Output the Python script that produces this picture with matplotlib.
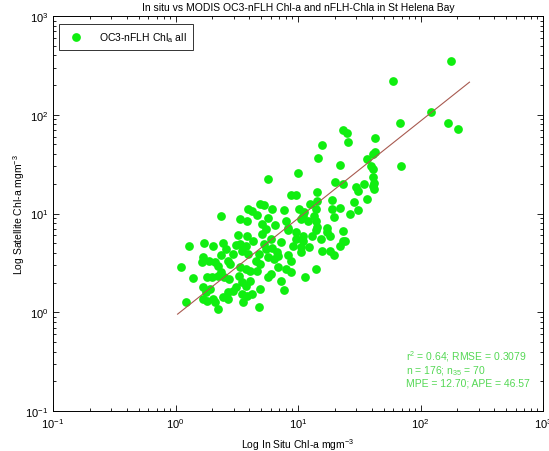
import numpy as np
import matplotlib
matplotlib.use("Agg")
import matplotlib.pyplot as plt
from matplotlib.lines import Line2D

# in situ vs satellite chl-a (mg m^-3)
insitu_chl = [
    1.28, 1.72, 2.04, 2.42, 3.21, 3.87, 4.33, 3.09, 3.39, 3.73,
    5.13, 5.23, 5.43, 3.52, 3.94, 4.76, 5.64, 2.33, 1.69, 1.86,
    1.66, 2.12, 2.24, 2.66, 2.81, 1.10, 3.39, 3.73, 4.09, 4.67,
    2.33, 3.27, 1.40, 1.82, 2.00, 2.24, 2.47, 2.71, 3.52, 3.73,
    4.09, 1.69, 1.93, 1.76, 4.94, 2.66, 2.92, 3.52, 3.87, 4.25,
    1.69, 1.82, 2.04, 2.12, 2.42, 2.66, 3.59, 1.21, 4.76, 2.24,
    5.64, 4.94, 5.23, 3.94, 4.25, 4.67, 2.33, 3.39, 3.87, 5.64,
    8.21, 9.55, 13.9, 17.4, 18.4, 23.1, 10.9, 10.9, 13.1, 23.1,
    24.4, 22.2, 9.02, 10.5, 10.5, 15.8, 18.4, 19.5, 6.19, 6.80,
    6.93, 6.31, 8.21, 6.93, 7.91, 8.69, 13.9, 11.5, 5.97, 5.64,
    7.20, 7.62, 15.8, 25.8, 14.7, 22.2, 40.6, 36.9, 39.1, 9.91,
    20.2, 23.5, 29.5, 30.6, 34.3, 41.3, 41.3, 14.4, 8.69, 9.55,
    28.4, 36.9, 19.1, 12.6, 14.4, 6.19, 7.62, 10.1, 13.9, 19.1,
    22.2, 10.9, 10.5, 13.4, 13.9, 19.5, 7.91, 6.55, 8.21, 14.4,
    17.4, 5.43, 12.0, 11.1, 23.5, 24.9, 176, 59.1, 121, 67.4,
    169, 204, 42.9, 42.9, 68.7, 40.6, 42.1, 42.1, 26.8, 30.6,
    2.56, 2.97, 4.50, 4.94, 3.09, 5.97, 7.20, 8.69, 9.72, 15.3,
    12.2, 5.13,
]
satellite_chl = [
    4.66, 5.00, 4.66, 5.00, 6.02, 5.88, 5.24, 4.77, 4.88, 4.66,
    6.17, 4.88, 4.35, 4.15, 3.87, 3.87, 3.61, 3.78, 3.61, 3.28,
    3.21, 3.21, 2.92, 3.28, 3.06, 2.86, 2.86, 2.73, 2.60, 2.60,
    2.54, 2.32, 2.21, 2.26, 2.26, 2.32, 2.26, 2.16, 2.01, 1.83,
    2.06, 1.79, 1.71, 1.59, 1.71, 1.59, 1.63, 1.52, 1.45, 1.52,
    1.35, 1.29, 1.35, 1.26, 1.42, 1.35, 1.26, 1.26, 1.12, 1.07,
    22.2, 12.4, 12.1, 11.0, 10.5, 9.60, 9.38, 8.75, 8.35, 8.95,
    6.77, 6.46, 6.77, 6.46, 5.88, 6.61, 5.88, 5.24, 5.88, 5.24,
    5.24, 4.66, 4.66, 4.55, 4.05, 4.15, 4.15, 3.78, 4.45, 4.05,
    3.69, 3.44, 3.78, 2.86, 2.73, 2.54, 2.73, 2.26, 2.43, 2.26,
    2.06, 1.67, 49.1, 52.7, 36.3, 30.8, 39.8, 35.4, 30.1, 25.6,
    20.7, 19.8, 18.4, 16.8, 19.8, 23.3, 18.9, 16.4, 15.3, 15.3,
    13.0, 13.9, 13.6, 12.4, 13.3, 11.0, 10.8, 11.0, 11.0, 11.0,
    11.3, 9.38, 8.75, 9.38, 8.35, 9.16, 8.35, 7.60, 7.09, 7.26,
    7.09, 6.93, 8.35, 10.3, 69.7, 65.0, 348, 218, 106, 82.0,
    82.0, 71.3, 57.8, 41.7, 30.1, 28.1, 20.2, 17.6, 9.83, 10.8,
    4.35, 3.87, 3.28, 3.06, 1.79, 5.49, 5.12, 3.28, 5.49, 5.49,
    4.55, 7.78,
]

# log-log regression line
fit_slope = 0.986
fit_intercept = -0.036
fit_range = [1.04, 251]

stats_lines = [
    r"r$^2$ = 0.64; RMSE = 0.3079",
    r"n = 176; n$_{35}$ = 70",
    "MPE = 12.70; APE = 46.57",
]

plt.rcParams["font.family"] = ["Liberation Sans", "DejaVu Sans"]
plt.rcParams["mathtext.default"] = "regular"
plt.rcParams["font.size"] = 7.5

fig = plt.figure(figsize=(5.49, 4.52), dpi=100)
ax = fig.add_axes([53 / 549, 1 - 412 / 452, 490 / 549, 395 / 452])

green = "#10ee10"
ax.plot(insitu_chl, satellite_chl, "o", color=green, markersize=6.3,
        markeredgewidth=0, zorder=2)

lx = np.array(fit_range)
ly = 10 ** (fit_intercept + fit_slope * np.log10(lx))
ax.plot(lx, ly, "-", color="#a85a50", linewidth=0.8, zorder=3)

ax.set_xscale("log")
ax.set_yscale("log")
ax.set_xlim(0.1, 1000)
ax.set_ylim(0.1, 1000)

ax.tick_params(which="both", direction="in", top=True, right=True,
               labelsize=8, width=0.6)
ax.tick_params(which="major", length=4)
ax.tick_params(which="minor", length=2.5)
for s in ax.spines.values():
    s.set_linewidth(0.7)

ax.set_title("In situ vs MODIS OC3-nFLH Chl-a and nFLH-Chla in St Helena Bay",
             fontsize=7.5, pad=4)
ax.set_xlabel(r"Log In Situ Chl-a mgm$^{-3}$", fontsize=7.5, labelpad=5)
ax.set_ylabel(r"Log Satellite Chl-a mgm$^{-3}$", fontsize=7.5, labelpad=0)
ax.yaxis.set_label_coords(-26 / 490, 0.5)

handle = Line2D([], [], linestyle="none", marker="o", color=green,
                markersize=6.3, markeredgewidth=0)
leg = ax.legend([handle], [r"OC3-nFLH Chl$_a$ all"], loc="upper left",
                bbox_to_anchor=(0.008, 0.985), fontsize=7.5, frameon=True,
                fancybox=False, edgecolor="black", borderpad=0.6,
                handletextpad=1.2, borderaxespad=0.2)
leg.get_frame().set_linewidth(0.7)

for ypos, line in zip([0.139, 0.104, 0.071], stats_lines):
    ax.text(0.720, ypos, line, transform=ax.transAxes, color="#55d855",
            fontsize=7.5, va="center", ha="left")

fig.savefig("out.png", dpi=100)
